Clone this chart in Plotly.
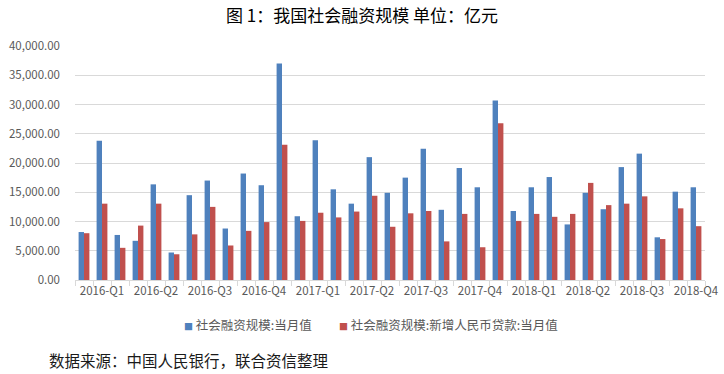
import plotly.graph_objects as go

months = ["2016-02", "2016-03", "2016-04", "2016-05", "2016-06", "2016-07", "2016-08", "2016-09",
          "2016-10", "2016-11", "2016-12", "2017-01", "2017-02", "2017-03", "2017-04", "2017-05",
          "2017-06", "2017-07", "2017-08", "2017-09", "2017-10", "2017-11", "2017-12", "2018-01",
          "2018-02", "2018-03", "2018-04", "2018-05", "2018-06", "2018-07", "2018-08", "2018-09",
          "2018-10", "2018-11", "2018-12"]

tsf_total = [8200, 23800, 7700, 6700, 16350, 4700, 14500, 17000, 8800, 18200, 16200, 37000,
             10900, 23900, 15500, 13050, 21000, 14900, 17500, 22450, 12000, 19150, 15850, 30700,
             11800, 15850, 17600, 9500, 14900, 12100, 19300, 21600, 7300, 15100, 15850]

tsf_loans = [8000, 13050, 5500, 9300, 13050, 4400, 7800, 12500, 5900, 8400, 9900, 23100,
             10100, 11500, 10700, 11700, 14400, 9100, 11400, 11800, 6600, 11300, 5600, 26800,
             10100, 11300, 10800, 11300, 16600, 12800, 13050, 14300, 7000, 12250, 9200]

quarter_months = ["2016-03", "2016-06", "2016-09", "2016-12", "2017-03", "2017-06",
                  "2017-09", "2017-12", "2018-03", "2018-06", "2018-09", "2018-12"]
quarter_labels = ["2016-Q1", "2016-Q2", "2016-Q3", "2016-Q4", "2017-Q1", "2017-Q2",
                  "2017-Q3", "2017-Q4", "2018-Q1", "2018-Q2", "2018-Q3", "2018-Q4"]

series_names = ["社会融资规模:当月值", "社会融资规模:新增人民币贷款:当月值"]
series_colors = ["#4F81BD", "#C0504D"]
title_text = "图 1：我国社会融资规模 单位：亿元"
source_text = "数据来源：中国人民银行，联合资信整理"

ticktext = [quarter_labels[quarter_months.index(m)] if m in quarter_months else "" for m in months]

font_family = "Noto Sans CJK SC, Noto Sans, sans-serif"

W, H = 724, 374
L, R, T, B = 75, 19, 46, 94
pw, ph = W - L - R, H - T - B


def px_x(x):
    return (x - L) / pw


def px_y(y):
    return (H - B - y) / ph


fig = go.Figure()
for vals, name, color in zip([tsf_total, tsf_loans], series_names, series_colors):
    fig.add_trace(go.Bar(x=months, y=vals, name=name, marker_color=color,
                         marker_line_width=0, showlegend=False))

fig.update_layout(
    width=W, height=H,
    margin=dict(l=L, r=R, t=T, b=B, autoexpand=False),
    paper_bgcolor="white", plot_bgcolor="white",
    barmode="group", bargap=0.4, bargroupgap=0,
    font=dict(family=font_family, size=11, color="#595959"),
    title=dict(text=title_text, x=0.5, xanchor="center", y=1 - 16 / H, yanchor="middle",
               font=dict(family=font_family, size=17, color="#000000")),
    xaxis=dict(type="category", tickmode="array", tickvals=months, ticktext=ticktext,
               tickson="boundaries", ticks="outside", ticklen=5, tickcolor="#d9d9d9",
               showgrid=False, showline=True, linecolor="#d9d9d9", linewidth=1,
               tickangle=0, tickfont=dict(size=11.5, color="#595959")),
    yaxis=dict(range=[0, 40000], dtick=5000, tickformat=",.2f", showgrid=True,
               gridcolor="#d9d9d9", gridwidth=1, zeroline=False, showline=False,
               tickfont=dict(size=11.5, color="#595959"), ticks="", ticklabelstandoff=14),
)

legend_x = [182, 337]
for lx, name, color in zip(legend_x, series_names, series_colors):
    fig.add_annotation(
        text=f"<span style='color:{color};font-size:9px'>■</span> {name}",
        xref="paper", yref="paper", x=px_x(lx), y=px_y(324),
        xanchor="left", yanchor="middle", showarrow=False,
        font=dict(family=font_family, size=12.5, color="#595959"))

fig.add_annotation(text=source_text, xref="paper", yref="paper", x=px_x(47),
                   y=px_y(360), xanchor="left", yanchor="middle", showarrow=False,
                   font=dict(family=font_family, size=15.5, color="#1a1a1a"))

# remove the default 8px page margin so the figure fills the 724x374 window
fig.write_html("out.html", config={"displayModeBar": False},
               post_script="document.body.style.margin='0';document.body.style.overflow='hidden';")
